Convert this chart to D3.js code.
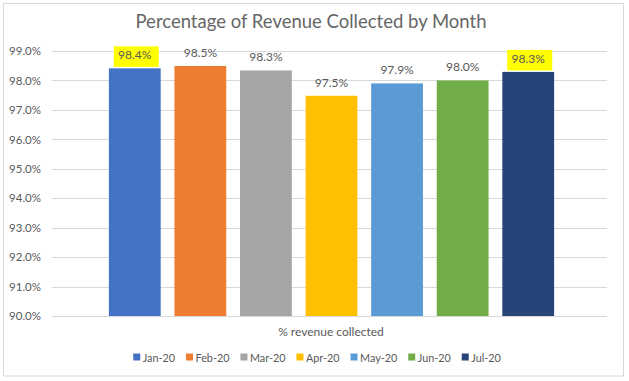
<!DOCTYPE html>
<html><head><meta charset="utf-8">
<script src="https://cdn.jsdelivr.net/npm/d3@7"></script>
<style>
html,body{margin:0;padding:0;background:#fff;}
svg{display:block;font-family:Lato,"Open Sans",sans-serif;}
</style></head>
<body>
<svg id="chart" width="629" height="381"></svg>
<script>
const months = ["Jan-20","Feb-20","Mar-20","Apr-20","May-20","Jun-20","Jul-20"];
const values = [98.41, 98.49, 98.34, 97.48, 97.90, 98.00, 98.29];
const colors = ["#4472C4","#ED7D31","#A5A5A5","#FFC000","#5B9BD5","#70AD47","#264478"];
const highlighted = ["Jan-20","Jul-20"];
const yTicks = [90,91,92,93,94,95,96,97,98,99];
const title = "Percentage of Revenue Collected by Month";
const categoryLabel = "% revenue collected";

const svg = d3.select("#chart");

// outer border
svg.append("rect").attr("x",3.5).attr("y",3.5).attr("width",620).attr("height",372.5)
  .attr("fill","#fff").attr("stroke","#d9d9d9").attr("stroke-width",1);

const plot = {left:52, right:607, top:51, bottom:316};
const y = d3.scaleLinear().domain([90,99]).range([plot.bottom, plot.top]);
const x = d3.scaleBand().domain(months).range([102,561]).paddingInner(0.21).paddingOuter(0.105);

// title
svg.append("text").attr("x",311).attr("y",28).attr("text-anchor","middle")
  .attr("font-size",18.5).attr("font-weight",400).attr("fill","#666666").text(title);

// gridlines
svg.append("g").selectAll("line").data(yTicks).join("line")
  .attr("x1",plot.left).attr("x2",plot.right)
  .attr("y1",d=>Math.round(y(d))+0.5).attr("y2",d=>Math.round(y(d))+0.5)
  .attr("stroke","#d9d9d9").attr("stroke-width",1);

// y axis labels
const yAxis = d3.axisLeft(y).tickValues(yTicks).tickFormat(d=>d3.format(".1f")(d)+"%").tickSize(0).tickPadding(0);
const ga = svg.append("g").attr("transform",`translate(41,0)`).call(yAxis);
ga.select(".domain").remove();
ga.selectAll("text").attr("font-size",11.5).attr("fill","#595959").attr("font-family","Lato,'Open Sans',sans-serif");

// bars
svg.append("g").selectAll("rect").data(months).join("rect")
  .attr("x",d=>x(d)).attr("width",x.bandwidth())
  .attr("y",(d,i)=>y(values[i])).attr("height",(d,i)=>plot.bottom - y(values[i]))
  .attr("fill",(d,i)=>colors[i]);

// baseline
svg.append("line").attr("x1",plot.left).attr("x2",plot.right)
  .attr("y1",plot.bottom+0.5).attr("y2",plot.bottom+0.5).attr("stroke","#d9d9d9");

// highlights
months.forEach((m,i)=>{
  if(highlighted.includes(m)){
    const cx = x(m)+x.bandwidth()/2;
    const ty = y(values[i]);
    svg.append("rect").attr("x",cx-21).attr("y",ty-22).attr("width",45).attr("height",20.5)
      .attr("fill","#FFFF00");
  }
});

// data labels
svg.append("g").selectAll("text").data(months).join("text")
  .attr("x",d=>x(d)+x.bandwidth()/2).attr("y",(d,i)=>y(values[i])-9)
  .attr("text-anchor","middle").attr("font-size",12).attr("fill","#595959")
  .text((d,i)=>d3.format(".1f")(values[i])+"%");

// category label
svg.append("text").attr("x",331).attr("y",336).attr("text-anchor","middle")
  .attr("font-size",12).attr("fill","#595959").text(categoryLabel);

// legend
const lg = svg.append("g");
let cursor = 0;
const gap = 11;
months.forEach((m,i)=>{
  const g = lg.append("g");
  g.append("rect").attr("x",0).attr("y",-3.5).attr("width",7).attr("height",7).attr("fill",colors[i]);
  const t = g.append("text").attr("x",9.5).attr("y",4.5).attr("font-size",10.8).attr("fill","#595959").text(m);
  const w = 9.5 + t.node().getComputedTextLength();
  g.attr("transform",`translate(${cursor},0)`);
  cursor += w + gap;
});
const total = cursor - gap;
lg.attr("transform",`translate(${317 - total/2},357)`);
</script>
</body></html>
